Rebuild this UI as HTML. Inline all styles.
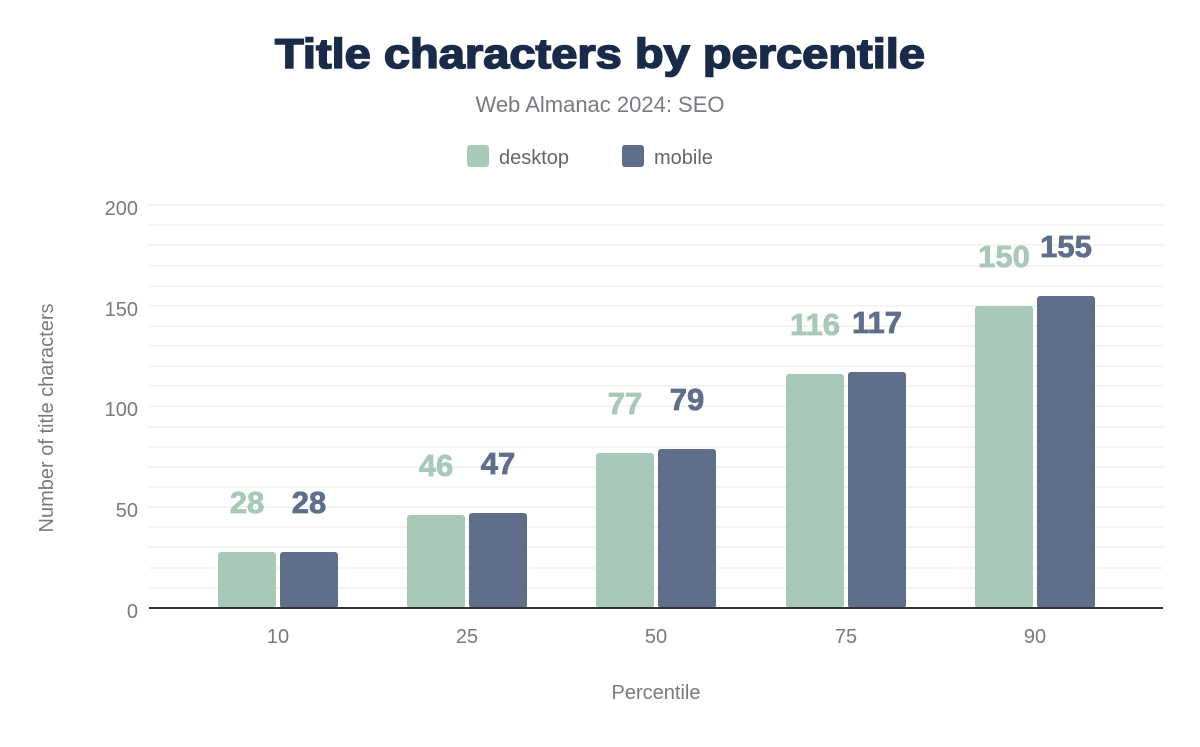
<!DOCTYPE html>
<html><head><meta charset="utf-8"><style>
body{margin:0;background:#fff;}
svg text{font-family:"Liberation Sans",Arial,sans-serif;}
</style></head><body>
<svg width="1200" height="742" viewBox="0 0 1200 742" xmlns="http://www.w3.org/2000/svg">
<rect width="1200" height="742" fill="#fff"/>
<text x="275" y="68" textLength="650" lengthAdjust="spacingAndGlyphs" font-size="42" font-weight="bold" fill="#1a2b49" stroke="#1a2b49" stroke-width="1.6">Title characters by percentile</text>
<text x="600" y="112" text-anchor="middle" font-size="22" fill="#777b80">Web Almanac 2024: SEO</text>
<rect x="467" y="145" width="22" height="22" rx="3" fill="#a8c9b8"/>
<text x="499" y="164" font-size="20" fill="#666">desktop</text>
<rect x="622" y="145" width="22" height="22" rx="3" fill="#5f6f89"/>
<text x="654" y="164" font-size="20" fill="#666">mobile</text>
<g stroke="#f4f4f4" stroke-width="2">
<line x1="149" x2="1163" y1="205" y2="205"/><line x1="149" x2="1163" y1="225" y2="225"/><line x1="149" x2="1163" y1="245" y2="245"/><line x1="149" x2="1163" y1="266" y2="266"/><line x1="149" x2="1163" y1="286" y2="286"/><line x1="149" x2="1163" y1="306" y2="306"/><line x1="149" x2="1163" y1="326" y2="326"/><line x1="149" x2="1163" y1="346" y2="346"/><line x1="149" x2="1163" y1="366" y2="366"/><line x1="149" x2="1163" y1="386" y2="386"/><line x1="149" x2="1163" y1="406" y2="406"/><line x1="149" x2="1163" y1="427" y2="427"/><line x1="149" x2="1163" y1="447" y2="447"/><line x1="149" x2="1163" y1="467" y2="467"/><line x1="149" x2="1163" y1="487" y2="487"/><line x1="149" x2="1163" y1="507" y2="507"/><line x1="149" x2="1163" y1="527" y2="527"/><line x1="149" x2="1163" y1="547" y2="547"/><line x1="149" x2="1163" y1="568" y2="568"/><line x1="149" x2="1163" y1="588" y2="588"/>
</g>
<g font-size="20" fill="#777b80" text-anchor="end">
<text x="138" y="215">200</text><text x="138" y="316">150</text><text x="138" y="416">100</text><text x="138" y="517">50</text><text x="138" y="618">0</text>
</g>
<text transform="translate(53,418) rotate(-90)" text-anchor="middle" font-size="20" fill="#777b80">Number of title characters</text>
<g fill="#a8c9b8">
<rect x="218" y="552" width="58" height="56" rx="3"/>
<rect x="407" y="515" width="58" height="93" rx="3"/>
<rect x="596" y="453" width="58" height="155" rx="3"/>
<rect x="786" y="374" width="58" height="234" rx="3"/>
<rect x="975" y="306" width="58" height="302" rx="3"/>
</g>
<g fill="#5f6f89">
<rect x="280" y="552" width="58" height="56" rx="3"/>
<rect x="469" y="513" width="58" height="95" rx="3"/>
<rect x="658" y="449" width="58" height="159" rx="3"/>
<rect x="848" y="372" width="58" height="236" rx="3"/>
<rect x="1037" y="296" width="58" height="312" rx="3"/>
</g>
<line x1="149" x2="1163" y1="608" y2="608" stroke="#333" stroke-width="2"/>
<g font-size="31" font-weight="bold" text-anchor="middle" fill="#a8c9b8" stroke="#a8c9b8" stroke-width="0.8">
<text x="247" y="513">28</text><text x="436" y="476">46</text><text x="625" y="414">77</text><text x="815" y="335">116</text><text x="1004" y="267">150</text>
</g>
<g font-size="31" font-weight="bold" text-anchor="middle" fill="#5f6f89" stroke="#5f6f89" stroke-width="0.8">
<text x="309" y="513">28</text><text x="498" y="474">47</text><text x="687" y="410">79</text><text x="877" y="333">117</text><text x="1066" y="257">155</text>
</g>
<g font-size="20" fill="#777b80" text-anchor="middle">
<text x="278" y="643">10</text><text x="467" y="643">25</text><text x="656" y="643">50</text><text x="846" y="643">75</text><text x="1035" y="643">90</text>
</g>
<text x="656" y="699" text-anchor="middle" font-size="20" fill="#777b80">Percentile</text>
</svg>
</body></html>
